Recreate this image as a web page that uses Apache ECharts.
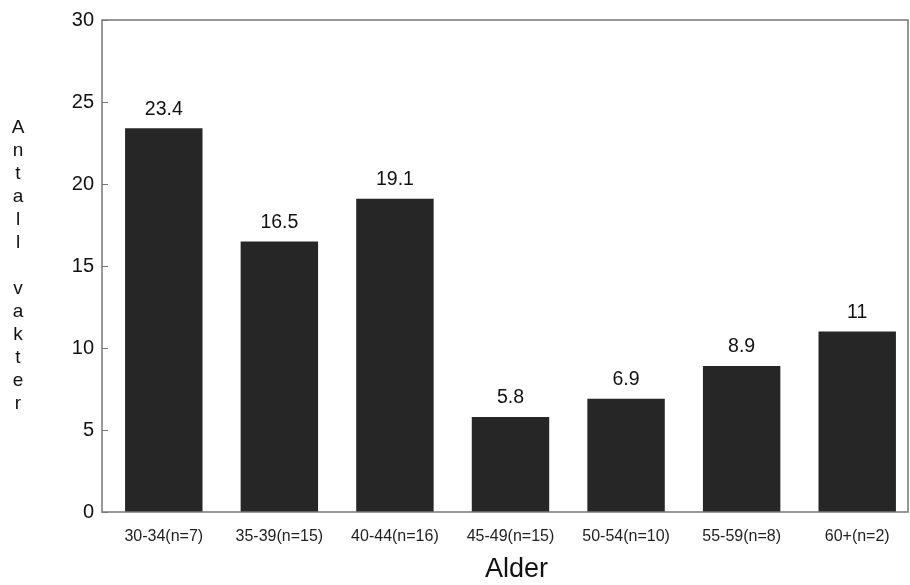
<!DOCTYPE html>
<html><head><meta charset="utf-8">
<script src="https://cdn.jsdelivr.net/npm/echarts@6/dist/echarts.min.js"></script>
<style>html,body{margin:0;padding:0;background:#fff;overflow:hidden}#c{width:910px;height:585px}</style>
</head><body><div id="c"></div>
<script>
const categories = ['30-34(n=7)', '35-39(n=15)', '40-44(n=16)', '45-49(n=15)', '50-54(n=10)', '55-59(n=8)', '60+(n=2)'];
const values = [23.4, 16.5, 19.1, 5.8, 6.9, 8.9, 11];
const valueLabels = ['23.4', '16.5', '19.1', '5.8', '6.9', '8.9', '11'];
const yTicks = [0, 5, 10, 15, 20, 25, 30];
const yTitle = 'Antall vakter';
const xTitle = 'Alder';

const chart = echarts.init(document.getElementById('c'), null, {renderer: 'canvas', width: 910, height: 585});
const font = 'Liberation Sans, Arial, sans-serif';
chart.setOption({
  animation: false,
  backgroundColor: '#fff',
  grid: {left: 106, right: -5, top: 20, bottom: 73, show: false, containLabel: false, outerBoundsMode: 'none'},
  graphic: [{
    type: 'rect', z: 10,
    shape: {x: 102, y: 20, width: 806, height: 492},
    style: {fill: 'none', stroke: '#777', lineWidth: 1.5}
  }],
  xAxis: {
    type: 'category', data: categories,
    axisLine: {show: false},
    axisTick: {show: false},
    axisLabel: {color: '#222', fontSize: 16, fontFamily: font, margin: 17, interval: 0, hideOverlap: false},
    name: xTitle, nameLocation: 'middle', nameGap: 44, nameMoveOverlap: false,
    nameTextStyle: {color: '#111', fontSize: 27, fontFamily: font, padding: [0, 0, 0, 12]}
  },
  yAxis: {
    type: 'value', min: 0, max: 30, interval: 5, offset: 4,
    splitLine: {show: false},
    axisLine: {show: false},
    axisTick: {show: true, inside: true, length: 6, lineStyle: {color: '#777'}},
    axisLabel: {color: '#111', fontSize: 20, fontFamily: font, margin: 8,
      formatter: v => yTicks.includes(v) ? String(v) : ''},
    name: yTitle.split('').join('\n'), nameLocation: 'middle', nameRotate: 0, nameGap: 84, nameMoveOverlap: false,
    nameTextStyle: {color: '#111', fontSize: 19, fontFamily: font, lineHeight: 23, align: 'center', padding: [16, 0, 0, 0]}
  },
  series: [{
    type: 'bar', data: values, barWidth: '67%',
    itemStyle: {color: '#262626'},
    label: {show: true, position: 'top', distance: 9, color: '#111', fontSize: 19.5, fontFamily: font,
      formatter: p => valueLabels[p.dataIndex]}
  }]
});
</script></body></html>
